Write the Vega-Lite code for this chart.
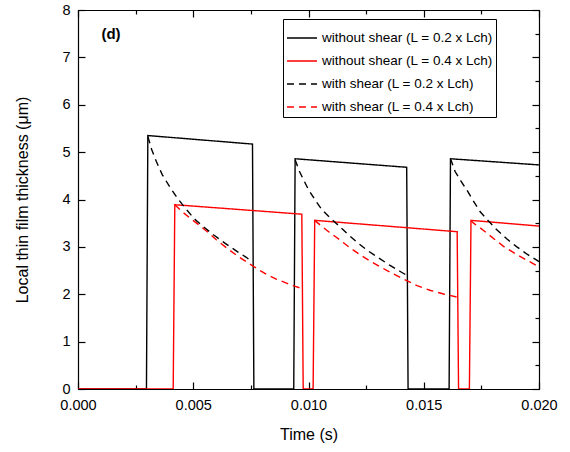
{
  "$schema": "https://vega.github.io/schema/vega-lite/v6.json",
  "width": 461,
  "height": 379,
  "autosize": "none",
  "padding": {"left": 78, "top": 10, "right": 31, "bottom": 63},
  "background": "white",
  "config": {
    "font": "Liberation Sans",
    "view": {"stroke": "black", "strokeWidth": 1},
    "axis": {
      "domainColor": "black", "domainWidth": 1.2, "tickColor": "black", "tickWidth": 1.2,
      "labelColor": "black", "titleColor": "black", "grid": false, "labelFlush": false,
      "labelFont": "Liberation Sans", "titleFont": "Liberation Sans",
      "labelFontSize": 14.5, "titleFontSize": 16, "titleFontWeight": "normal"
    }
  },
  "data": {"values": [
    {"s": "without shear (L = 0.2 x Lch)", "g": 1, "t": 0, "h": 0},
    {"s": "without shear (L = 0.2 x Lch)", "g": 1, "t": 0.00297, "h": 0},
    {"s": "without shear (L = 0.2 x Lch)", "g": 1, "t": 0.00303, "h": 5.35},
    {"s": "without shear (L = 0.2 x Lch)", "g": 1, "t": 0.00757, "h": 5.17},
    {"s": "without shear (L = 0.2 x Lch)", "g": 1, "t": 0.00763, "h": 0},
    {"s": "without shear (L = 0.2 x Lch)", "g": 1, "t": 0.00936, "h": 0},
    {"s": "without shear (L = 0.2 x Lch)", "g": 1, "t": 0.00942, "h": 4.86},
    {"s": "without shear (L = 0.2 x Lch)", "g": 1, "t": 0.01426, "h": 4.68},
    {"s": "without shear (L = 0.2 x Lch)", "g": 1, "t": 0.01432, "h": 0},
    {"s": "without shear (L = 0.2 x Lch)", "g": 1, "t": 0.01610, "h": 0},
    {"s": "without shear (L = 0.2 x Lch)", "g": 1, "t": 0.01616, "h": 4.86},
    {"s": "without shear (L = 0.2 x Lch)", "g": 1, "t": 0.020, "h": 4.73},

    {"s": "without shear (L = 0.4 x Lch)", "g": 1, "t": 0, "h": 0},
    {"s": "without shear (L = 0.4 x Lch)", "g": 1, "t": 0.00413, "h": 0},
    {"s": "without shear (L = 0.4 x Lch)", "g": 1, "t": 0.00420, "h": 3.89},
    {"s": "without shear (L = 0.4 x Lch)", "g": 1, "t": 0.00971, "h": 3.69},
    {"s": "without shear (L = 0.4 x Lch)", "g": 1, "t": 0.00977, "h": 0},
    {"s": "without shear (L = 0.4 x Lch)", "g": 1, "t": 0.01020, "h": 0},
    {"s": "without shear (L = 0.4 x Lch)", "g": 1, "t": 0.01027, "h": 3.56},
    {"s": "without shear (L = 0.4 x Lch)", "g": 1, "t": 0.01645, "h": 3.32},
    {"s": "without shear (L = 0.4 x Lch)", "g": 1, "t": 0.01651, "h": 0},
    {"s": "without shear (L = 0.4 x Lch)", "g": 1, "t": 0.01698, "h": 0},
    {"s": "without shear (L = 0.4 x Lch)", "g": 1, "t": 0.01705, "h": 3.56},
    {"s": "without shear (L = 0.4 x Lch)", "g": 1, "t": 0.020, "h": 3.44},

    {"s": "with shear (L = 0.2 x Lch)", "g": 1, "t": 0.00303, "h": 5.33},
    {"s": "with shear (L = 0.2 x Lch)", "g": 1, "t": 0.00320, "h": 5.05},
    {"s": "with shear (L = 0.2 x Lch)", "g": 1, "t": 0.00340, "h": 4.80},
    {"s": "with shear (L = 0.2 x Lch)", "g": 1, "t": 0.00366, "h": 4.52},
    {"s": "with shear (L = 0.2 x Lch)", "g": 1, "t": 0.00400, "h": 4.25},
    {"s": "with shear (L = 0.2 x Lch)", "g": 1, "t": 0.00431, "h": 4.03},
    {"s": "with shear (L = 0.2 x Lch)", "g": 1, "t": 0.00465, "h": 3.82},
    {"s": "with shear (L = 0.2 x Lch)", "g": 1, "t": 0.00503, "h": 3.60},
    {"s": "with shear (L = 0.2 x Lch)", "g": 1, "t": 0.00545, "h": 3.42},
    {"s": "with shear (L = 0.2 x Lch)", "g": 1, "t": 0.00589, "h": 3.25},
    {"s": "with shear (L = 0.2 x Lch)", "g": 1, "t": 0.00640, "h": 3.07},
    {"s": "with shear (L = 0.2 x Lch)", "g": 1, "t": 0.00691, "h": 2.90},
    {"s": "with shear (L = 0.2 x Lch)", "g": 1, "t": 0.00730, "h": 2.78},
    {"s": "with shear (L = 0.2 x Lch)", "g": 1, "t": 0.00757, "h": 2.68},
    {"s": "with shear (L = 0.2 x Lch)", "g": 2, "t": 0.00942, "h": 4.84},
    {"s": "with shear (L = 0.2 x Lch)", "g": 2, "t": 0.00960, "h": 4.60},
    {"s": "with shear (L = 0.2 x Lch)", "g": 2, "t": 0.00980, "h": 4.40},
    {"s": "with shear (L = 0.2 x Lch)", "g": 2, "t": 0.01001, "h": 4.20},
    {"s": "with shear (L = 0.2 x Lch)", "g": 2, "t": 0.01030, "h": 3.98},
    {"s": "with shear (L = 0.2 x Lch)", "g": 2, "t": 0.01059, "h": 3.78},
    {"s": "with shear (L = 0.2 x Lch)", "g": 2, "t": 0.01090, "h": 3.63},
    {"s": "with shear (L = 0.2 x Lch)", "g": 2, "t": 0.01124, "h": 3.48},
    {"s": "with shear (L = 0.2 x Lch)", "g": 2, "t": 0.01170, "h": 3.27},
    {"s": "with shear (L = 0.2 x Lch)", "g": 2, "t": 0.01210, "h": 3.10},
    {"s": "with shear (L = 0.2 x Lch)", "g": 2, "t": 0.01254, "h": 2.93},
    {"s": "with shear (L = 0.2 x Lch)", "g": 2, "t": 0.01300, "h": 2.78},
    {"s": "with shear (L = 0.2 x Lch)", "g": 2, "t": 0.01350, "h": 2.62},
    {"s": "with shear (L = 0.2 x Lch)", "g": 2, "t": 0.01398, "h": 2.48},
    {"s": "with shear (L = 0.2 x Lch)", "g": 2, "t": 0.01426, "h": 2.40},
    {"s": "with shear (L = 0.2 x Lch)", "g": 3, "t": 0.01616, "h": 4.86},
    {"s": "with shear (L = 0.2 x Lch)", "g": 3, "t": 0.01636, "h": 4.59},
    {"s": "with shear (L = 0.2 x Lch)", "g": 3, "t": 0.01660, "h": 4.40},
    {"s": "with shear (L = 0.2 x Lch)", "g": 3, "t": 0.01687, "h": 4.20},
    {"s": "with shear (L = 0.2 x Lch)", "g": 3, "t": 0.01715, "h": 3.97},
    {"s": "with shear (L = 0.2 x Lch)", "g": 3, "t": 0.01745, "h": 3.74},
    {"s": "with shear (L = 0.2 x Lch)", "g": 3, "t": 0.01780, "h": 3.55},
    {"s": "with shear (L = 0.2 x Lch)", "g": 3, "t": 0.01817, "h": 3.36},
    {"s": "with shear (L = 0.2 x Lch)", "g": 3, "t": 0.01860, "h": 3.17},
    {"s": "with shear (L = 0.2 x Lch)", "g": 3, "t": 0.01904, "h": 3.00},
    {"s": "with shear (L = 0.2 x Lch)", "g": 3, "t": 0.01950, "h": 2.84},
    {"s": "with shear (L = 0.2 x Lch)", "g": 3, "t": 0.01990, "h": 2.72},
    {"s": "with shear (L = 0.2 x Lch)", "g": 3, "t": 0.020, "h": 2.69},

    {"s": "with shear (L = 0.4 x Lch)", "g": 1, "t": 0.00420, "h": 3.89},
    {"s": "with shear (L = 0.4 x Lch)", "g": 1, "t": 0.00450, "h": 3.75},
    {"s": "with shear (L = 0.4 x Lch)", "g": 1, "t": 0.00488, "h": 3.60},
    {"s": "with shear (L = 0.4 x Lch)", "g": 1, "t": 0.00525, "h": 3.46},
    {"s": "with shear (L = 0.4 x Lch)", "g": 1, "t": 0.00561, "h": 3.32},
    {"s": "with shear (L = 0.4 x Lch)", "g": 1, "t": 0.00600, "h": 3.15},
    {"s": "with shear (L = 0.4 x Lch)", "g": 1, "t": 0.00647, "h": 2.97},
    {"s": "with shear (L = 0.4 x Lch)", "g": 1, "t": 0.00700, "h": 2.78},
    {"s": "with shear (L = 0.4 x Lch)", "g": 1, "t": 0.00748, "h": 2.63},
    {"s": "with shear (L = 0.4 x Lch)", "g": 1, "t": 0.00790, "h": 2.50},
    {"s": "with shear (L = 0.4 x Lch)", "g": 1, "t": 0.00821, "h": 2.41},
    {"s": "with shear (L = 0.4 x Lch)", "g": 1, "t": 0.00860, "h": 2.32},
    {"s": "with shear (L = 0.4 x Lch)", "g": 1, "t": 0.00907, "h": 2.23},
    {"s": "with shear (L = 0.4 x Lch)", "g": 1, "t": 0.00940, "h": 2.17},
    {"s": "with shear (L = 0.4 x Lch)", "g": 1, "t": 0.00971, "h": 2.12},
    {"s": "with shear (L = 0.4 x Lch)", "g": 2, "t": 0.01027, "h": 3.56},
    {"s": "with shear (L = 0.4 x Lch)", "g": 2, "t": 0.01051, "h": 3.46},
    {"s": "with shear (L = 0.4 x Lch)", "g": 2, "t": 0.01090, "h": 3.31},
    {"s": "with shear (L = 0.4 x Lch)", "g": 2, "t": 0.01138, "h": 3.14},
    {"s": "with shear (L = 0.4 x Lch)", "g": 2, "t": 0.01180, "h": 2.98},
    {"s": "with shear (L = 0.4 x Lch)", "g": 2, "t": 0.01225, "h": 2.83},
    {"s": "with shear (L = 0.4 x Lch)", "g": 2, "t": 0.01261, "h": 2.72},
    {"s": "with shear (L = 0.4 x Lch)", "g": 2, "t": 0.01300, "h": 2.61},
    {"s": "with shear (L = 0.4 x Lch)", "g": 2, "t": 0.01341, "h": 2.50},
    {"s": "with shear (L = 0.4 x Lch)", "g": 2, "t": 0.01400, "h": 2.35},
    {"s": "with shear (L = 0.4 x Lch)", "g": 2, "t": 0.01471, "h": 2.18},
    {"s": "with shear (L = 0.4 x Lch)", "g": 2, "t": 0.01530, "h": 2.08},
    {"s": "with shear (L = 0.4 x Lch)", "g": 2, "t": 0.01590, "h": 2.00},
    {"s": "with shear (L = 0.4 x Lch)", "g": 2, "t": 0.01645, "h": 1.94},
    {"s": "with shear (L = 0.4 x Lch)", "g": 3, "t": 0.01705, "h": 3.56},
    {"s": "with shear (L = 0.4 x Lch)", "g": 3, "t": 0.01716, "h": 3.50},
    {"s": "with shear (L = 0.4 x Lch)", "g": 3, "t": 0.01745, "h": 3.40},
    {"s": "with shear (L = 0.4 x Lch)", "g": 3, "t": 0.01774, "h": 3.29},
    {"s": "with shear (L = 0.4 x Lch)", "g": 3, "t": 0.01810, "h": 3.15},
    {"s": "with shear (L = 0.4 x Lch)", "g": 3, "t": 0.01846, "h": 3.01},
    {"s": "with shear (L = 0.4 x Lch)", "g": 3, "t": 0.01900, "h": 2.85},
    {"s": "with shear (L = 0.4 x Lch)", "g": 3, "t": 0.01947, "h": 2.72},
    {"s": "with shear (L = 0.4 x Lch)", "g": 3, "t": 0.020, "h": 2.58}
  ]},
  "layer": [
    {
      "mark": {"type": "line", "strokeWidth": 1.4, "clip": true},
      "encoding": {
        "x": {
          "field": "t", "type": "quantitative",
          "scale": {"domain": [0, 0.02], "nice": false, "zero": false},
          "axis": {
            "orient": "bottom", "title": "Time (s)",
            "values": [0, 0.0025, 0.005, 0.0075, 0.01, 0.0125, 0.015, 0.0175, 0.02],
            "format": ".3f", "labelFlush": false,
            "labelExpr": "abs(datum.value/0.005 - round(datum.value/0.005)) < 0.01 ? datum.label : ''",
            "tickSize": {"condition": {"test": "abs(datum.value/0.005 - round(datum.value/0.005)) < 0.01", "value": -7}, "value": -4},
            "labelFontSize": 14.5, "titleFontSize": 16, "titleFontWeight": "normal",
            "labelPadding": 16, "titlePadding": 15
          }
        },
        "y": {
          "field": "h", "type": "quantitative",
          "scale": {"domain": [0, 8], "nice": false},
          "axis": {
            "orient": "left", "title": "Local thin film thickness (μm)",
            "values": [0, 0.5, 1, 1.5, 2, 2.5, 3, 3.5, 4, 4.5, 5, 5.5, 6, 6.5, 7, 7.5, 8],
            "format": "d", "labelFlush": false,
            "labelExpr": "abs(datum.value - round(datum.value)) < 0.01 ? datum.label : ''",
            "tickSize": {"condition": {"test": "abs(datum.value - round(datum.value)) < 0.01", "value": -7}, "value": -4},
            "labelFontSize": 14.5, "titleFontSize": 16, "titleFontWeight": "normal",
            "labelPadding": 15, "titlePadding": 31
          }
        },
        "detail": {"field": "g", "type": "nominal"},
        "color": {
          "field": "s", "type": "nominal",
          "scale": {
            "domain": ["without shear (L = 0.2 x Lch)", "without shear (L = 0.4 x Lch)", "with shear (L = 0.2 x Lch)", "with shear (L = 0.4 x Lch)"],
            "range": ["#000000", "#ff0000", "#000000", "#ff0000"]
          },
          "legend": {
            "orient": "none", "legendX": 205, "legendY": 9, "title": null,
            "strokeColor": "black", "fillColor": "white", "padding": 3,
            "symbolType": "stroke", "symbolSize": 900, "symbolStrokeWidth": 1.4,
            "labelFontSize": 13.5, "labelFont": "Liberation Sans", "labelColor": "black",
            "labelOffset": 4, "rowPadding": 0, "labelLimit": 300
          }
        },
        "strokeDash": {
          "field": "s", "type": "nominal",
          "scale": {
            "domain": ["without shear (L = 0.2 x Lch)", "without shear (L = 0.4 x Lch)", "with shear (L = 0.2 x Lch)", "with shear (L = 0.4 x Lch)"],
            "range": [[1, 0], [1, 0], [7, 5], [7, 5]]
          },
          "legend": {
            "orient": "none", "legendX": 205, "legendY": 9, "title": null,
            "strokeColor": "black", "fillColor": "white", "padding": 3,
            "symbolType": "stroke", "symbolSize": 900, "symbolStrokeWidth": 1.4,
            "labelFontSize": 13.5, "labelFont": "Liberation Sans", "labelColor": "black",
            "labelOffset": 4, "rowPadding": 0, "labelLimit": 300
          }
        }
      }
    },
    {
      "data": {"values": [{"label": "(d)", "t": 0.00143, "h": 7.5}]},
      "mark": {"type": "text", "fontWeight": "bold", "fontSize": 15, "font": "Liberation Sans", "color": "black"},
      "encoding": {
        "x": {
          "field": "t", "type": "quantitative",
          "scale": {"domain": [0, 0.02], "nice": false, "zero": false},
          "axis": {
            "orient": "top", "title": null, "labels": false,
            "values": [0, 0.0025, 0.005, 0.0075, 0.01, 0.0125, 0.015, 0.0175, 0.02],
            "tickSize": {"condition": {"test": "abs(datum.value/0.005 - round(datum.value/0.005)) < 0.01", "value": -7}, "value": -4}
          }
        },
        "y": {
          "field": "h", "type": "quantitative",
          "scale": {"domain": [0, 8], "nice": false},
          "axis": {
            "orient": "right", "title": null, "labels": false,
            "values": [0, 0.5, 1, 1.5, 2, 2.5, 3, 3.5, 4, 4.5, 5, 5.5, 6, 6.5, 7, 7.5, 8],
            "tickSize": {"condition": {"test": "abs(datum.value - round(datum.value)) < 0.01", "value": -7}, "value": -4}
          }
        },
        "text": {"field": "label", "type": "nominal"}
      }
    }
  ],
  "resolve": {"axis": {"x": "independent", "y": "independent"}}
}
